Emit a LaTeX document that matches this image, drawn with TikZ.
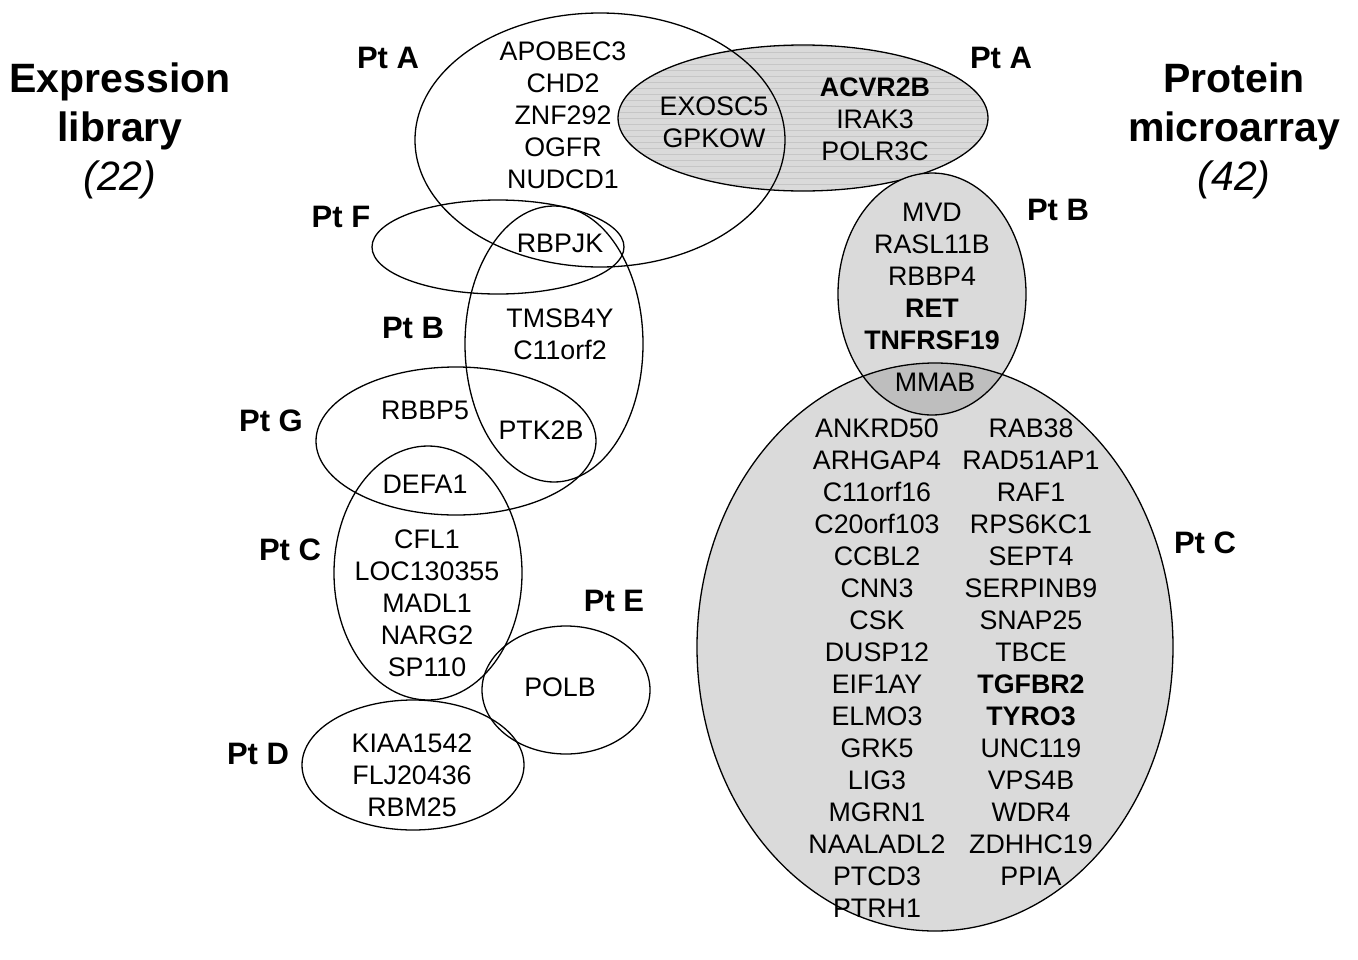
\documentclass[tikz,border=0pt]{standalone}
\usepackage{fontspec}
\setmainfont{Liberation Sans}
\begin{document}
\begin{tikzpicture}[x=1pt,y=-1pt,
  gene/.style={align=center,inner sep=0pt,font=\fontsize{26.8}{32}\selectfont},
  ptlab/.style={inner sep=0pt,font=\fontsize{31}{32}\selectfont\bfseries},
  title/.style={align=center,inner sep=0pt,font=\fontsize{41}{49}\selectfont\bfseries},
  venn/.style={draw=black,line width=1.3pt},
  greyfill/.style={fill=gfill},
]
\definecolor{gfill}{HTML}{DADADA}
\definecolor{gdark}{HTML}{BEBEBE}
\definecolor{gstripe}{HTML}{C6C6C6}
\useasboundingbox (0,0) rectangle (1358,959);

% ---- right Pt A (striped grey) ----
\fill[gfill] (803,118) ellipse [x radius=185pt, y radius=73pt];
\begin{scope}
  \clip (803,118) ellipse [x radius=185pt, y radius=73pt];
  \foreach \yy in {46,52,...,192} {\draw[gstripe,line width=0.6pt] (610,\yy) -- (1000,\yy);}
\end{scope}
\draw[venn] (803,118) ellipse [x radius=185pt, y radius=73pt];

% ---- left ellipses ----
\draw[venn] (600,140) ellipse [x radius=185pt, y radius=127pt];
\draw[venn] (498,247) ellipse [x radius=126pt, y radius=47pt];
\draw[venn] (554,344) ellipse [x radius=89pt, y radius=138pt];
\draw[venn] (456,441) ellipse [x radius=140pt, y radius=74pt];
\draw[venn] (428,573) ellipse [x radius=94pt, y radius=127pt];
\draw[venn] (566,690) ellipse [x radius=84pt, y radius=64pt];
\draw[venn] (413,765) ellipse [x radius=111pt, y radius=65pt];

% ---- right Pt B / Pt C ----
\fill[gfill] (935,647) ellipse [x radius=238pt, y radius=284pt];
\fill[gfill] (932,294) ellipse [x radius=94pt, y radius=121pt];
\begin{scope}
  \clip (935,647) ellipse [x radius=238pt, y radius=284pt];
  \fill[gdark] (932,294) ellipse [x radius=94pt, y radius=121pt];
\end{scope}
\draw[venn] (935,647) ellipse [x radius=238pt, y radius=284pt];
\draw[venn] (932,294) ellipse [x radius=94pt, y radius=121pt];

% ---- titles ----
\node[title] (t1) at (120,131) {Expression\\library\\\textmd{\itshape (22)}};
\node[title] (t2) at (1234,131) {Protein\\microarray\\\textmd{\itshape (42)}};

% ---- patient labels ----
\node[ptlab] (la) at (388,58) {Pt A};
\node[ptlab] (ra) at (1001,58) {Pt A};
\node[ptlab] (lf) at (341,217) {Pt F};
\node[ptlab] (lb) at (413,328) {Pt B};
\node[ptlab] (lg) at (271,421) {Pt G};
\node[ptlab] (lc) at (290,550) {Pt C};
\node[ptlab] (le) at (614,601) {Pt E};
\node[ptlab] (ld) at (258,754) {Pt D};
\node[ptlab] (rb) at (1058,210) {Pt B};
\node[ptlab] (rc) at (1205,543) {Pt C};

% ---- genes ----
\node[gene] (g1) at (563,115) {APOBEC3\\CHD2\\ZNF292\\OGFR\\NUDCD1};
\node[gene] (g2) at (714,122) {EXOSC5\\GPKOW};
\node[gene] (g3) at (875,119) {\textbf{ACVR2B}\\IRAK3\\POLR3C};
\node[gene] (g4) at (560,243) {RBPJK};
\node[gene] (g5) at (560,334) {TMSB4Y\\C11orf2};
\node[gene] (g6) at (425,410) {RBBP5};
\node[gene] (g7) at (541,430) {PTK2B};
\node[gene] (g8) at (425,484) {DEFA1};
\node[gene] (g9) at (427,603) {CFL1\\LOC130355\\MADL1\\NARG2\\SP110};
\node[gene] (g10) at (560,687) {POLB};
\node[gene] (g11) at (412,775) {KIAA1542\\FLJ20436\\RBM25};
\node[gene] (g12) at (932,276) {MVD\\RASL11B\\RBBP4\\\textbf{RET}\\\textbf{TNFRSF19}};
\node[gene] (g13) at (935,382) {MMAB};
\node[gene] (g14) at (877,668) {ANKRD50\\ARHGAP4\\C11orf16\\C20orf103\\CCBL2\\CNN3\\CSK\\DUSP12\\EIF1AY\\ELMO3\\GRK5\\LIG3\\MGRN1\\NAALADL2\\PTCD3\\PTRH1};
\node[gene] (g15) at (1031,652) {RAB38\\RAD51AP1\\RAF1\\RPS6KC1\\SEPT4\\SERPINB9\\SNAP25\\TBCE\\\textbf{TGFBR2}\\\textbf{TYRO3}\\UNC119\\VPS4B\\WDR4\\ZDHHC19\\PPIA};
\end{tikzpicture}
\end{document}
